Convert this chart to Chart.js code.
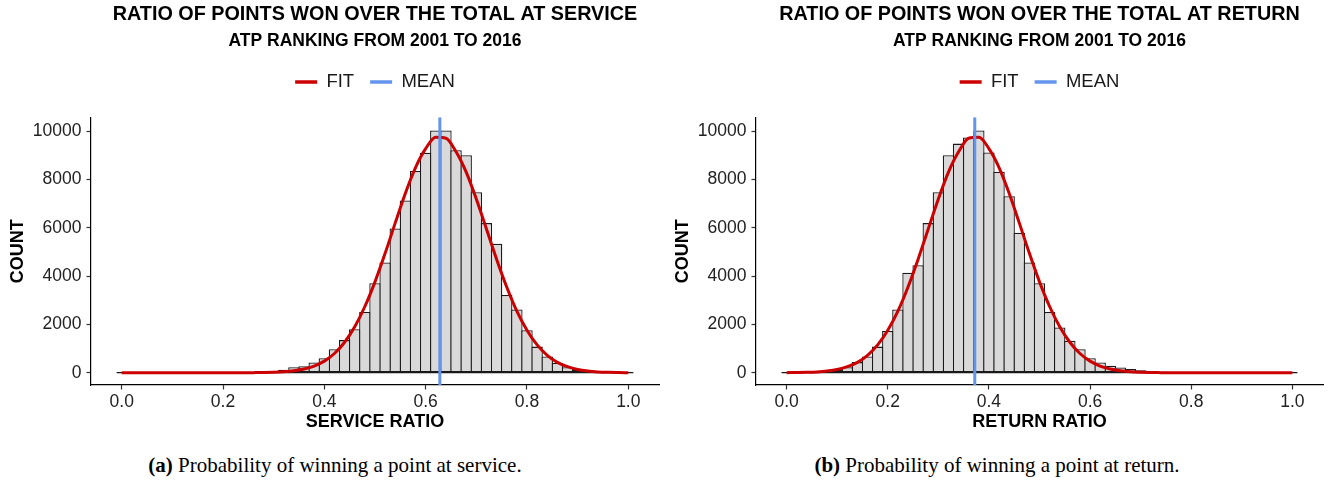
<!DOCTYPE html>
<html><head><meta charset="utf-8">
<script src="https://cdn.jsdelivr.net/npm/chart.js@4.4.1/dist/chart.umd.min.js"></script>
<style>
html,body{margin:0;padding:0;background:#fff;overflow:hidden;width:1335px;height:485px;position:relative;}
.panel{position:absolute;top:0;height:440px;}
#w1{left:0;width:750px;}
#w2{left:665px;width:749px;}
.cap{position:absolute;top:455px;width:670px;text-align:center;font-family:"Liberation Serif","Times New Roman",serif;font-size:21px;line-height:21px;color:#000;white-space:nowrap;}
</style></head><body>
<div class="panel" id="w1"><canvas id="c1" width="750" height="440"></canvas></div>
<div class="panel" id="w2"><canvas id="c2" width="749" height="440"></canvas></div>
<div class="cap" style="left:0px"><b>(a)</b> Probability of winning a point at service.</div>
<div class="cap" style="left:662px"><b>(b)</b> Probability of winning a point at return.</div>
<script>
// ---- data ----
const SERVICE_BINS = [0.28,0.30,0.32,0.34,0.36,0.38,0.40,0.42,0.44,0.46,0.48,0.50,0.52,0.54,0.56,0.58,0.60,0.62,0.64,0.66,0.68,0.70,0.72,0.74,0.76,0.78,0.80,0.82,0.84,0.86,0.88,0.90,0.92,0.94,0.96];
const SERVICE_COUNTS = [30,60,120,230,270,420,600,970,1350,1800,2510,3700,4560,5970,7130,8350,9100,10020,10020,9210,9000,7470,6190,5340,3220,2620,1760,1080,670,400,230,120,50,20,10];
const RETURN_BINS = [0.04,0.06,0.08,0.10,0.12,0.14,0.16,0.18,0.20,0.22,0.24,0.26,0.28,0.30,0.32,0.34,0.36,0.38,0.40,0.42,0.44,0.46,0.48,0.50,0.52,0.54,0.56,0.58,0.60,0.62,0.64,0.66,0.68,0.70,0.72,0.74,0.76];
const RETURN_COUNTS = [10,20,50,110,230,440,670,1080,1730,2620,4140,4450,6190,7470,9000,9480,9730,10020,9110,8320,7300,5790,4560,3700,2510,1870,1320,970,600,420,290,220,150,100,60,40,20];
const FIT_X = [0.00,0.02,0.04,0.06,0.08,0.10,0.12,0.14,0.16,0.18,0.20,0.22,0.24,0.26,0.28,0.30,0.32,0.34,0.36,0.38,0.40,0.42,0.44,0.46,0.48,0.50,0.52,0.54,0.56,0.58,0.60,0.62,0.64,0.66,0.68,0.70,0.72,0.74,0.76,0.78,0.80,0.82,0.84,0.86,0.88,0.90,0.92,0.94,0.96,0.98,1.00];
const SERVICE_FIT = [0,0,0,0,0,0,0,0,0,0,0,0,0,4,9,19,40,81,153,277,480,795,1260,1900,2740,3760,4940,6200,7430,8490,9270,9740,9700,9140,8300,7190,5950,4700,3550,2550,1760,1150,720,430,250,135,70,34,16,7,3];
const RETURN_FIT = [3,7,16,34,70,135,250,430,720,1150,1760,2550,3550,4700,5950,7190,8300,9140,9700,9740,9270,8490,7430,6200,4940,3760,2740,1900,1260,795,480,277,153,81,40,19,9,4,0,0,0,0,0,0,0,0,0,0,0,0,0];
const SERVICE_MEAN = 0.628;
const RETURN_MEAN = 0.372;
const BASELINE_X = [-0.01, 1.01];
const X_TICKS = [0.0,0.2,0.4,0.6,0.8,1.0];
const X_TICK_LABELS = ['0.0','0.2','0.4','0.6','0.8','1.0'];
const Y_TICKS = [0,2000,4000,6000,8000,10000];
const Y_TICK_LABELS = ['0','2000','4000','6000','8000','10000'];
const X_RANGE = [-0.0606, 1.0606];
const Y_RANGE = [-508, 10566];

const SANS = "'Liberation Sans', Arial, Helvetica, sans-serif";
Chart.defaults.font.family = SANS;

function build(id, bins, counts, fit, mean, title, xTitle) {
  const ctx = document.getElementById(id);
  const ax = { xAxisID: 'x', yAxisID: 'y' };
  return new Chart(ctx, {
    type: 'bar',
    data: {
      datasets: [
        { ...ax, type: 'line', label: 'FIT', data: FIT_X.map((x,i)=>({x, y: fit[i]})),
          borderColor: '#CC0000', backgroundColor: '#CC0000', borderWidth: 3,
          pointRadius: 0, cubicInterpolationMode: 'monotone', order: 1 },
        { ...ax, type: 'line', label: 'MEAN', data: [{x: mean, y: Y_RANGE[0]}, {x: mean, y: Y_RANGE[1]}],
          borderColor: '#6495ED', backgroundColor: '#6495ED', borderWidth: 3,
          pointRadius: 0, order: 0 },
        { ...ax, type: 'bar', label: '', data: bins.map((b,i)=>({x: b, y: counts[i]})),
          backgroundColor: '#D9D9D9', borderColor: '#1a1a1a', borderWidth: 1.3,
          borderSkipped: false, barPercentage: 1.128, categoryPercentage: 1.0, order: 3 },
        { ...ax, type: 'line', label: '', data: BASELINE_X.map(x=>({x, y: 0})),
          borderColor: '#1a1a1a', borderWidth: 1.2, pointRadius: 0, order: 2 }
      ]
    },
    options: {
      responsive: false, animation: false, devicePixelRatio: 1, events: [],
      layout: { padding: 0 },
      plugins: {
        tooltip: { enabled: false },
        title: { display: true, text: title, color: '#000',
          font: { size: 19.8, weight: 'bold', lineHeight: 1.2 }, padding: { top: 3.1, bottom: 0 } },
        subtitle: { display: true, text: 'ATP RANKING FROM 2001 TO 2016', color: '#000',
          font: { size: 17.5, weight: 'bold', lineHeight: 1.2 }, padding: { top: 3.6, bottom: 5.4 } },
        legend: {
          display: true, position: 'top',
          labels: {
            boxWidth: 22, boxHeight: 3.5, padding: 16, color: '#1a1a1a',
            font: { size: 18.5, lineHeight: 1.2 },
            generateLabels: (chart) => chart.data.datasets
              .map((ds, i) => ({ text: ds.label, fillStyle: ds.borderColor, strokeStyle: ds.borderColor,
                lineWidth: 0, hidden: false, datasetIndex: i, fontColor: '#1a1a1a' }))
              .filter(it => it.text)
          }
        }
      },
      scales: {
        y: {
          type: 'linear', position: 'left', min: Y_RANGE[0], max: Y_RANGE[1],
          afterBuildTicks: (s) => { s.ticks = Y_TICKS.map(v => ({ value: v })); },
          afterFit: (s) => { s.width = 91; },
          ticks: { color: '#222', font: { size: 17.5 }, padding: 5, autoSkip: false,
            callback: (v) => Y_TICK_LABELS[Y_TICKS.indexOf(v)] },
          grid: { display: true, drawOnChartArea: false, drawTicks: true, tickLength: 4.5,
            tickWidth: 1.2, tickColor: '#333' },
          border: { display: true, color: '#000', width: 1.2 },
          title: { display: true, text: 'COUNT', color: '#000',
            font: { size: 18, weight: 'bold', lineHeight: 1.2 }, padding: { top: 7.2, bottom: 0 } }
        },
        x: {
          type: 'linear', position: 'bottom', min: X_RANGE[0], max: X_RANGE[1], offset: false,
          afterBuildTicks: (s) => { s.ticks = X_TICKS.map(v => ({ value: v })); },
          afterFit: (s) => { s.height = 55; },
          ticks: { color: '#222', font: { size: 17.5 }, padding: 2, maxRotation: 0, autoSkip: false,
            callback: (v) => X_TICK_LABELS[X_TICKS.indexOf(v)] },
          grid: { display: true, drawOnChartArea: false, drawTicks: true, tickLength: 4.5,
            tickWidth: 1.2, tickColor: '#333', offset: false },
          border: { display: true, color: '#000', width: 1.2 },
          title: { display: true, text: xTitle, color: '#000',
            font: { size: 18, weight: 'bold', lineHeight: 1.2 }, padding: { top: 0, bottom: 7.2 } }
        },
        xTop: {
          type: 'linear', position: 'top', display: true,
          grid: { display: false }, border: { display: false }, ticks: { display: false },
          afterFit: (s) => { s.height = 16; }
        },
        yRight: {
          type: 'linear', position: 'right', display: true,
          grid: { display: false }, border: { display: false }, ticks: { display: false },
          afterFit: (s) => { s.width = 91; }
        }
      }
    }
  });
}

build('c1', SERVICE_BINS, SERVICE_COUNTS, SERVICE_FIT, SERVICE_MEAN,
  'RATIO OF POINTS WON OVER THE TOTAL AT SERVICE', 'SERVICE RATIO');
build('c2', RETURN_BINS, RETURN_COUNTS, RETURN_FIT, RETURN_MEAN,
  'RATIO OF POINTS WON OVER THE TOTAL AT RETURN', 'RETURN RATIO');
</script>
</body></html>
